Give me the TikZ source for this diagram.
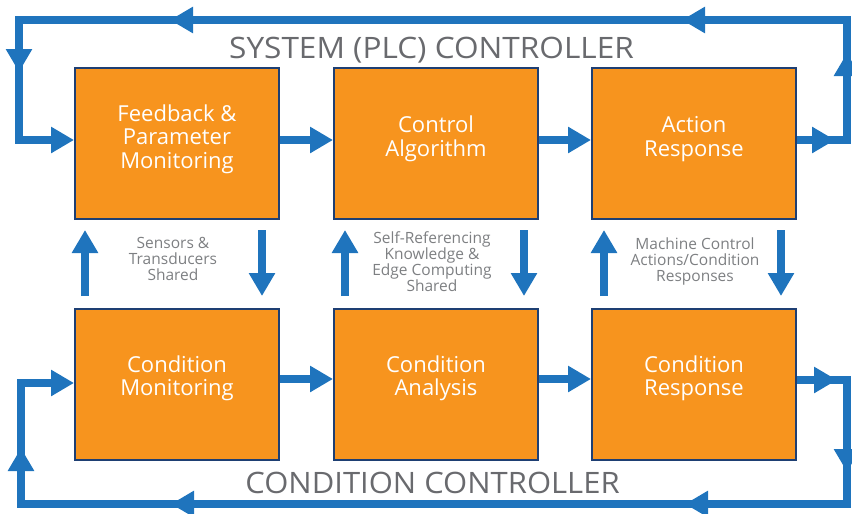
\documentclass[tikz,border=0pt]{standalone}
\usepackage{fontspec}
\usepackage{graphicx}
\setmainfont{Open Sans}
\usetikzlibrary{arrows.meta,decorations.markings,calc}
\definecolor{orng}{RGB}{247,148,30}
\definecolor{bord}{RGB}{30,63,115}
\definecolor{blu}{RGB}{31,116,189}
\definecolor{ttl}{RGB}{105,106,110}
\definecolor{lblc}{RGB}{125,127,130}
\tikzset{
  box/.style={draw=bord,line width=2pt,fill=orng,minimum width=204pt,minimum height=151pt,inner sep=0pt,anchor=north west},
  boxtext/.style={text=white,align=center,font=\fontsize{22}{23.5}\selectfont,inner sep=0pt},
  lbl/.style={text=lblc,align=center,font=\fontsize{15.5}{16}\selectfont,inner sep=0pt},
  ttlstyle/.style={text=ttl,font=\fontsize{29.5}{32}\selectfont,inner sep=0pt,anchor=base},
  flow/.style={draw=blu,line width=8pt,-{Triangle[width=25pt,length=23pt]}},
  loopline/.style={draw=blu,line width=8pt,line join=miter,-{Triangle[width=25pt,length=23pt]}}
}
\begin{document}
\begin{tikzpicture}[x=1pt,y=-1pt]
\useasboundingbox (0,0) rectangle (852,514);
% boxes
\node[box] (b1) at (74,67) {};
\node[box] (b2) at (333,67) {};
\node[box] (b3) at (591,67) {};
\node[box] (b4) at (74,308) {};
\node[box] (b5) at (333,308) {};
\node[box] (b6) at (591,308) {};
% box texts
\node[boxtext] (t1) at ($(b1.center)+(0,-4.5)$) {Feedback \&\\Parameter\\Monitoring};
\node[boxtext] (t2) at ($(b2.center)+(0,-4.5)$) {Control\\Algorithm};
\node[boxtext] (t3) at ($(b3.center)+(0,-4.5)$) {Action\\Response};
\node[boxtext] (t4) at ($(b4.center)+(0,-6)$) {Condition\\Monitoring};
\node[boxtext] (t5) at ($(b5.center)+(0,-6)$) {Condition\\Analysis};
\node[boxtext] (t6) at ($(b6.center)+(0,-6)$) {Condition\\Response};
% titles
\node[ttlstyle] (top) at (431.5,58) {\scalebox{1.07}[1]{SYSTEM (PLC) CONTROLLER}};
\node[ttlstyle] (bot) at (432.5,493) {\scalebox{1.05}[1]{CONDITION CONTROLLER}};
% side labels
\node[lbl] (l1) at (173,259) {Sensors \&\\Transducers\\Shared};
\node[lbl] (l2) at (432,262) {Self-Referencing\\Knowledge \&\\Edge Computing\\Shared};
\node[lbl] (l3) at (695,261) {Machine Control\\Actions/Condition\\Responses};
% reference rows
\coordinate (r1) at (0,140);
\coordinate (r2) at (0,380);
\coordinate (r3) at (0,383);
\coordinate (rc1) at (0,379);
% horizontal flows
\draw[flow] (b1.east |- r1) -- (b2.west |- r1);
\draw[flow] (b2.east |- r1) -- (b3.west |- r1);
\draw[flow] (b4.east |- rc1) -- (b5.west |- rc1);
\draw[flow] (b5.east |- rc1) -- (b6.west |- rc1);
% vertical flows
\draw[flow] ($(b4.north west)+(11,-12)$) -- ($(b1.south west)+(11,10)$);
\draw[flow] ($(b1.south east)+(-18,10)$) -- ($(b4.north east)+(-18,-12)$);
\draw[flow] ($(b5.north west)+(12,-12)$) -- ($(b2.south west)+(12,10)$);
\draw[flow] ($(b2.south east)+(-15,10)$) -- ($(b5.north east)+(-15,-12)$);
\draw[flow] ($(b6.north west)+(13,-12)$) -- ($(b3.south west)+(13,10)$);
\draw[flow] ($(b3.south east)+(-16,10)$) -- ($(b6.north east)+(-16,-12)$);
% top loop
\coordinate (c1) at (847,140);
\coordinate (c2) at (847,20);
\coordinate (c3) at (19,20);
\coordinate (c4) at (19,140);
\draw[loopline,postaction={decorate},decoration={markings,
  mark=at position 38pt with {\arrow{Triangle[width=25pt,length=23pt]}},
  mark=at position 137pt with {\arrow{Triangle[width=25pt,length=23pt]}},
  mark=at position 335pt with {\arrow{Triangle[width=25pt,length=23pt]}},
  mark=at position 847pt with {\arrow{Triangle[width=25pt,length=23pt]}},
  mark=at position 1050pt with {\arrow{Triangle[width=25pt,length=23pt]}}}]
  (b3.east |- r1) -- (c1) -- (c2) -- (c3) -- (c4) -- (b1.west |- r1);
% bottom loop
\coordinate (d1) at (847,380);
\coordinate (d2) at (847,504);
\coordinate (d3) at (21,504);
\coordinate (d4) at (21,383);
\draw[loopline,postaction={decorate},decoration={markings,
  mark=at position 40pt with {\arrow{Triangle[width=25pt,length=23pt]}},
  mark=at position 142pt with {\arrow{Triangle[width=25pt,length=23pt]}},
  mark=at position 336pt with {\arrow{Triangle[width=25pt,length=23pt]}},
  mark=at position 850pt with {\arrow{Triangle[width=25pt,length=23pt]}},
  mark=at position 1056pt with {\arrow{Triangle[width=25pt,length=23pt]}}}]
  (b6.east |- r2) -- (d1) -- (d2) -- (d3) -- (d4) -- (b4.west |- r3);
\end{tikzpicture}
\end{document}
